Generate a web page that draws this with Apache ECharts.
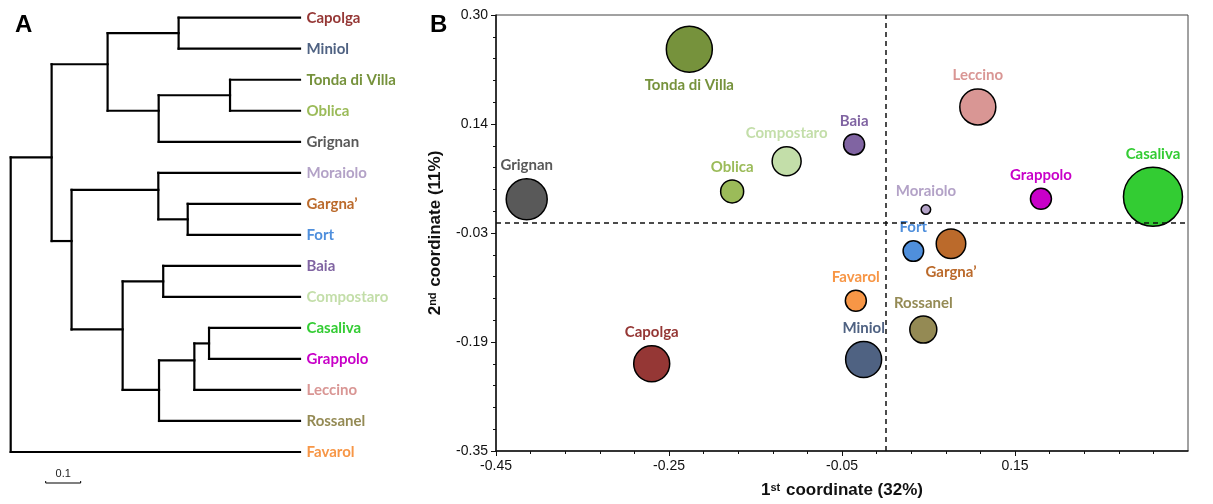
<!DOCTYPE html>
<html><head><meta charset="utf-8">
<script src="https://cdn.jsdelivr.net/npm/echarts@6/dist/echarts.min.js"></script>
<style>html,body{margin:0;padding:0;background:#fff}#c{width:1213px;height:504px}</style>
</head><body><div id="c"></div>
<script>
// ---------------- data ----------------
const cultivars = ['Capolga','Miniol','Tonda di Villa','Oblica','Grignan','Moraiolo','Gargna\u2019','Fort','Baia','Compostaro','Casaliva','Grappolo','Leccino','Rossanel','Favarol'];
const coord1 = [-0.270, -0.025, -0.2265, -0.177, -0.4145, 0.047, 0.076, 0.0325, -0.036, -0.114, 0.3095, 0.180, 0.107, 0.044, -0.034];
const coord2 = [-0.220, -0.2135, 0.249, 0.037, 0.0254, 0.010, -0.041, -0.052, 0.107, 0.082, 0.029, 0.026, 0.163, -0.169, -0.126];
const bubbleWeight = [36, 36, 46, 23, 41, 9.5, 29.5, 20.5, 21, 29, 59, 21, 36, 27, 21];
const xTickLabels = ['-0.45','-0.25','-0.05','0.15','0.35'];
const yTickLabels = ['-0.35','-0.19','-0.03','0.14','0.30'];
const xRange = [-0.45, 0.35];
const yRange = [-0.35, 0.30];
const originX = 0.0, originY = -0.008;

// dendrogram, depth in distance units, row in leaf-row units
const treeNodes    = ['root','main','top','CM','TOG','TO','mid','MGF','GF','BCR','BC','CGLR','CGL','CG'];
const treeChildren = [['main','Favarol'],['top','mid'],['CM','TOG'],['Capolga','Miniol'],['TO','Grignan'],['Tonda di Villa','Oblica'],['MGF','BCR'],['Moraiolo','GF'],['Gargna\u2019','Fort'],['BC','CGLR'],['Baia','Compostaro'],['CGL','Rossanel'],['CG','Leccino'],['Casaliva','Grappolo']];
const treeDepth    = [0, 0.117, 0.277, 0.480, 0.423, 0.627, 0.174, 0.422, 0.506, 0.320, 0.436, 0.424, 0.525, 0.567];
const treeRow      = [9.25, 4.5, 1.5, 0.5, 3.0, 2.5, 7.2, 5.55, 6.5, 10.05, 8.5, 12.0, 11.05, 10.5];
const leafDepth = 0.827;
const scaleBar = [0.1, 0.2];
const scaleBarLabel = '0.1';

// ---------------- styles ----------------
const cultivarColors = ['#953735','#4F6282','#76923C','#9BBB59','#595959','#B3A2C7','#BB6A2B','#4F8FDC','#8064A2','#C3DEA9','#33CC33','#C800C8','#D99694','#948A54','#F79646'];
const labelsBelow = ['Tonda di Villa','Gargna\u2019'];
const LABEL_FONT = 'Lato';
const AXIS_FONT = 'Liberation Sans';

// ---------------- derived ----------------
const leafRowOf = {}; cultivars.forEach((n,i)=>leafRowOf[n]=i);
const nodeIdx = {}; treeNodes.forEach((n,i)=>nodeIdx[n]=i);
function pos(name){ return (name in nodeIdx) ? [treeDepth[nodeIdx[name]], treeRow[nodeIdx[name]]] : [leafDepth, leafRowOf[name]]; }
const segs = [];
treeNodes.forEach((n,i)=>{
  const d = treeDepth[i];
  const rows = treeChildren[i].map(c=>pos(c)[1]);
  segs.push([d, Math.min(...rows), d, Math.max(...rows)]);
  treeChildren[i].forEach(c=>{ const p = pos(c); segs.push([d, p[1], p[0], p[1]]); });
});

function ticks(range, labels){ const n = labels.length-1; return labels.map((_,i)=>range[0]+(range[1]-range[0])*i/n); }
function minorTicks(range, nMajor, sub){ const out=[]; const n=nMajor*sub; for(let i=0;i<=n;i++) out.push(range[0]+(range[1]-range[0])*i/n); return out; }
const xMajor = ticks(xRange, xTickLabels), yMajor = ticks(yRange, yTickLabels);
const xMinor = minorTicks(xRange, xTickLabels.length-1, 5), yMinor = minorTicks(yRange, yTickLabels.length-1, 5);
function lookup(vals, labels){ return v => { let bi=0; vals.forEach((t,i)=>{ if(Math.abs(t-v)<Math.abs(vals[bi]-v)) bi=i; }); return labels[bi]; }; }

const chart = echarts.init(document.getElementById('c'), null, {renderer:'canvas'});
const option = {
  animation: false,
  backgroundColor: '#fff',
  grid: [
    {left: 10.7, top: 17.7, width: 289.3, height: 465.3, show: false},
    {left: 496, top: 15, width: 692, height: 438, show: true, borderColor: '#444', borderWidth: 1}
  ],
  xAxis: [
    {type:'value', gridIndex:0, min:0, max:leafDepth, show:false},
    {type:'value', gridIndex:1, min:xRange[0], max:xRange[1], position:'bottom',
     splitLine:{show:false},
     axisLine:{show:true, onZero:false, lineStyle:{color:'#111', width:1.5}},
     axisTick:{show:true, customValues:xMajor, length:5, lineStyle:{color:'#111', width:1}},
     axisLabel:{customValues:xMajor, formatter:lookup(xMajor,xTickLabels), color:'#111', fontFamily:AXIS_FONT, fontSize:14, margin:8},
     name:'1{sup|st} coordinate (32%)', nameLocation:'middle', nameGap:31,
     nameTextStyle:{fontFamily:AXIS_FONT, fontWeight:'bold', fontSize:17, color:'#111',
       rich:{sup:{fontFamily:AXIS_FONT, fontWeight:'bold', fontSize:11, color:'#111', verticalAlign:'top', padding:[0,1,0,0]}}}
    },
    {type:'value', gridIndex:1, min:xRange[0], max:xRange[1], position:'bottom',
     splitLine:{show:false}, axisLine:{show:false, onZero:false},
     axisTick:{show:true, customValues:xMinor, length:3, lineStyle:{color:'#111', width:1}},
     axisLabel:{show:false}}
  ],
  yAxis: [
    {type:'value', gridIndex:0, min:0, max:15, inverse:true, show:false},
    {type:'value', gridIndex:1, min:yRange[0], max:yRange[1], position:'left',
     splitLine:{show:false},
     axisLine:{show:true, onZero:false, lineStyle:{color:'#111', width:1.5}},
     axisTick:{show:true, customValues:yMajor, length:5, lineStyle:{color:'#111', width:1}},
     axisLabel:{customValues:yMajor, formatter:lookup(yMajor,yTickLabels), color:'#111', fontFamily:AXIS_FONT, fontSize:14, margin:8},
     name:'2{sup|nd} coordinate (11%)', nameLocation:'middle', nameGap:52, nameRotate:90,
     nameTextStyle:{fontFamily:AXIS_FONT, fontWeight:'bold', fontSize:17, color:'#111',
       rich:{sup:{fontFamily:AXIS_FONT, fontWeight:'bold', fontSize:11, color:'#111', verticalAlign:'top', padding:[0,1,0,0]}}}
    },
    {type:'value', gridIndex:1, min:yRange[0], max:yRange[1], position:'left',
     splitLine:{show:false}, axisLine:{show:false, onZero:false},
     axisTick:{show:true, customValues:yMinor, length:3, lineStyle:{color:'#111', width:1}},
     axisLabel:{show:false}}
  ],
  graphic: [
    {type:'text', left:15, top:13, style:{text:'A', font:'bold 24px "Liberation Sans"', fill:'#000'}},
    {type:'text', left:430, top:13, style:{text:'B', font:'bold 24px "Liberation Sans"', fill:'#000'}}
  ],
  series: [
    {type:'custom', xAxisIndex:0, yAxisIndex:0, silent:true,
     encode:{x:[0,2], y:[1,3]},
     data: segs,
     renderItem(params, api){
       const a = api.coord([api.value(0), api.value(1)]);
       const b = api.coord([api.value(2), api.value(3)]);
       return {type:'line', shape:{x1:a[0], y1:a[1], x2:b[0], y2:b[1]}, style:{stroke:'#000', lineWidth:2.2, lineCap:'square'}};
     }},
    {type:'custom', xAxisIndex:0, yAxisIndex:0, silent:true,
     encode:{x:[0,2], y:[1,3]},
     data: [[scaleBar[0], 15, scaleBar[1], 15]],
     renderItem(params, api){
       const a = api.coord([api.value(0), api.value(1)]);
       const b = api.coord([api.value(2), api.value(3)]);
       return {type:'group', children:[
         {type:'line', shape:{x1:a[0], y1:a[1], x2:b[0], y2:b[1]}, style:{stroke:'#000', lineWidth:1.2}},
         {type:'line', shape:{x1:a[0], y1:a[1], x2:a[0], y2:a[1]-2}, style:{stroke:'#000', lineWidth:1}},
         {type:'line', shape:{x1:b[0], y1:b[1], x2:b[0], y2:b[1]-2}, style:{stroke:'#000', lineWidth:1}},
         {type:'text', x:(a[0]+b[0])/2, y:a[1]-4, style:{text:scaleBarLabel, align:'center', verticalAlign:'bottom', font:'11px "Liberation Sans"', fill:'#222'}}
       ]};
     }},
    {type:'scatter', xAxisIndex:0, yAxisIndex:0, silent:true, symbolSize:1, itemStyle:{color:'rgba(0,0,0,0)', opacity:1},
     data: cultivars.map((n,i)=>({name:n, value:[leafDepth, i], label:{color:cultivarColors[i]}})),
     label:{show:true, position:'right', distance:6, formatter:'{b}', fontFamily:LABEL_FONT, fontWeight:'bold', fontSize:15}
    },
    {type:'line', xAxisIndex:1, yAxisIndex:1, data:[], z:1, silent:true,
     markLine:{silent:true, symbol:['none','none'], label:{show:false},
       lineStyle:{color:'#111', type:[5,4], width:1.5},
       data:[{xAxis:originX}, {yAxis:originY}]}
    },
    {type:'scatter', xAxisIndex:1, yAxisIndex:1, z:3, silent:true,
     symbolSize: v => v[2],
     data: cultivars.map((n,i)=>({name:n, value:[coord1[i], coord2[i], bubbleWeight[i]],
       itemStyle:{color:cultivarColors[i]},
       label:{color:cultivarColors[i], position: labelsBelow.includes(n) ? 'bottom' : 'top'}})),
     itemStyle:{borderColor:'#000', borderWidth:1.5, opacity:1},
     label:{show:true, formatter:'{b}', distance:5, fontFamily:LABEL_FONT, fontWeight:'bold', fontSize:15}
    }
  ]
};
chart.setOption(option);
</script>
</body></html>
